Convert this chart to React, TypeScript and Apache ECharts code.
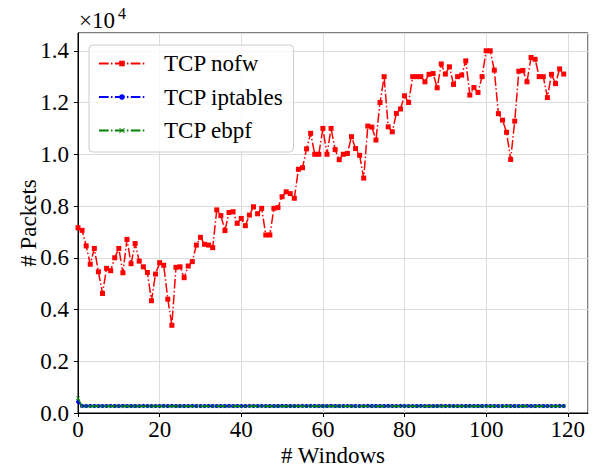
import React, { useEffect, useRef } from "react";
import * as echarts from "echarts";

const seriesNames = ["TCP nofw", "TCP iptables", "TCP ebpf"];

const nofw = [
  7160, 7060, 6460, 5750, 6360, 5460, 4620, 5590, 5500, 6000,
  6360, 5420, 6710, 5770, 6550, 5870, 5650, 5430, 4340, 5370,
  5810, 5710, 4400, 3390, 5630, 5650, 5230, 5680, 5850, 6490,
  6790, 6520, 6490, 6390, 7850, 7630, 7050, 7750, 7780, 7330,
  7520, 7240, 7650, 7970, 7700, 7910, 6880, 6880, 7910, 7940,
  8360, 8550, 8480, 8300, 9420, 9480, 10210, 10810, 10000, 10000,
  11000, 10000, 11000, 10180, 9790, 10000, 10030, 10680, 10220, 9960,
  9080, 11090, 11050, 10550, 12000, 13000, 11060, 10870, 11580, 11750,
  12260, 12000, 13000, 13000, 13000, 12800, 13090, 13120, 12570, 13490,
  13100, 13380, 12700, 13000, 13060, 13610, 12290, 12580, 12390, 13000,
  14000, 14000, 13250, 11570, 11320, 10850, 9800, 11280, 13210, 13240,
  12800, 13740, 13670, 13000, 13000, 12190, 13090, 12730, 13300, 13100,
];

const iptables = [
  430, 275, 272, 276, 273, 270, 274, 272, 275, 271,
  273, 276, 272, 274, 270, 273, 275, 272, 274, 271,
  273, 275, 272, 276, 271, 274, 272, 273, 275, 270,
  274, 272, 276, 273, 271, 274, 272, 275, 273, 270,
  274, 272, 275, 271, 273, 276, 272, 274, 270, 273,
  275, 272, 274, 271, 273, 275, 272, 276, 271, 274,
  272, 273, 275, 270, 274, 272, 276, 273, 271, 274,
  272, 275, 273, 270, 274, 272, 275, 271, 273, 276,
  272, 274, 270, 273, 275, 272, 274, 271, 273, 275,
  272, 276, 271, 274, 272, 273, 275, 270, 274, 272,
  276, 273, 271, 274, 272, 275, 273, 270, 274, 272,
  275, 271, 273, 276, 272, 274, 270, 273, 275, 272,
];

const ebpf = [
  570, 262, 258, 260, 257, 261, 259, 258, 262, 260,
  257, 259, 261, 258, 260, 262, 257, 259, 261, 258,
  260, 259, 262, 257, 261, 258, 260, 259, 262, 258,
  257, 261, 259, 260, 258, 262, 257, 260, 259, 261,
  258, 260, 262, 257, 259, 261, 258, 260, 259, 262,
  257, 261, 258, 260, 259, 262, 258, 257, 261, 259,
  260, 258, 262, 257, 260, 259, 261, 258, 260, 262,
  257, 259, 261, 258, 260, 259, 262, 257, 261, 258,
  260, 259, 262, 258, 257, 261, 259, 260, 258, 262,
  257, 260, 259, 261, 258, 260, 262, 257, 259, 261,
  258, 260, 259, 262, 257, 261, 258, 260, 259, 262,
  258, 257, 261, 259, 260, 258, 262, 257, 260, 259,
];

const xTickInterval = 20;
const yTickInterval = 2000;
const xMax = 124.95;
const yMax = 14687;

const FONT = "Liberation Serif";
const DASH = [9.6, 2.4, 1.5, 2.4];
const CROSS =
  "path://M1,0 L5,4 L9,0 L10,1 L6,5 L10,9 L9,10 L5,6 L1,10 L0,9 L4,5 L0,1 Z";

function toPairs(values: number[]) {
  return values.map((v, i) => [i, v]);
}

export default function App() {
  const ref = useRef<HTMLDivElement>(null);

  useEffect(() => {
    if (!ref.current) return;
    const chart = echarts.init(ref.current, undefined, { renderer: "svg" });
    const option: any = {
      animation: false,
      backgroundColor: "#ffffff",
      textStyle: { fontFamily: FONT },
      grid: {
        left: 78,
        right: 5,
        top: 33,
        bottom: 54,
        show: true,
        borderColor: "#000000",
        borderWidth: 1,
        containLabel: false,
        outerBoundsMode: "none",
      },
      legend: {
        orient: "vertical",
        left: 89,
        top: 45,
        padding: [7, 10, 10, 9],
        itemWidth: 46,
        itemHeight: 7,
        itemGap: 10.5,
        backgroundColor: "rgba(255,255,255,0.8)",
        borderColor: "#cccccc",
        borderWidth: 1,
        borderRadius: 4,
        data: seriesNames,
        textStyle: {
          fontFamily: FONT,
          fontSize: 23,
          color: "#000000",
          lineHeight: 22,
          padding: [0, 0, 0, 14],
        },
      },
      graphic: [
        {
          type: "text",
          left: 79,
          top: 9,
          style: {
            text: "×10",
            fontFamily: FONT,
            fontSize: 23,
            fill: "#000000",
          },
        },
        {
          type: "text",
          left: 118,
          top: 5,
          style: {
            text: "4",
            fontFamily: FONT,
            fontSize: 16,
            fill: "#000000",
          },
        },
      ],
      xAxis: {
        type: "value",
        min: 0,
        max: xMax,
        interval: xTickInterval,
        name: "# Windows",
        nameLocation: "middle",
        nameGap: 31,
        nameMoveOverlap: false,
        nameTextStyle: {
          fontFamily: FONT,
          fontSize: 23,
          color: "#000000",
        },
        axisLine: { show: true, onZero: false, lineStyle: { color: "#000000", width: 1 } },
        axisTick: { show: true, inside: false, length: 4, lineStyle: { color: "#000000" } },
        axisLabel: {
          fontFamily: FONT,
          fontSize: 23,
          color: "#000000",
          margin: 5,
          showMaxLabel: false,
        },
        splitLine: { show: true, lineStyle: { color: "#dcdcdc", width: 1 } },
      },
      yAxis: {
        type: "value",
        min: 0,
        max: yMax,
        interval: yTickInterval,
        name: "# Packets",
        nameLocation: "middle",
        nameGap: 38,
        nameMoveOverlap: false,
        nameRotate: 90,
        nameTextStyle: { fontFamily: FONT, fontSize: 23, color: "#000000" },
        axisLine: { show: true, lineStyle: { color: "#000000", width: 1 } },
        axisTick: { show: true, inside: false, length: 4, lineStyle: { color: "#000000" } },
        axisLabel: {
          fontFamily: FONT,
          fontSize: 23,
          color: "#000000",
          margin: 9,
          showMaxLabel: false,
          formatter: (v: number) => (v / 10000).toFixed(1),
        },
        splitLine: { show: true, lineStyle: { color: "#dcdcdc", width: 1 } },
      },
      series: [
        {
          name: seriesNames[0],
          type: "line",
          data: toPairs(nofw),
          symbol: "rect",
          symbolSize: 5,
          showAllSymbol: true,
          color: "#ff0000",
          lineStyle: { color: "#ff0000", width: 1.5, type: DASH },
          itemStyle: { color: "#ff0000" },
          z: 2,
        },
        {
          name: seriesNames[1],
          type: "line",
          data: toPairs(iptables),
          symbol: "circle",
          symbolSize: 4,
          showAllSymbol: true,
          color: "#0000ff",
          lineStyle: { color: "#0000ff", width: 1.5, type: DASH },
          itemStyle: { color: "#0000ff" },
          z: 3,
        },
        {
          name: seriesNames[2],
          type: "line",
          data: toPairs(ebpf),
          symbol: CROSS,
          symbolSize: 4,
          showAllSymbol: true,
          color: "#008000",
          lineStyle: { color: "#008000", width: 1.5, type: DASH },
          itemStyle: { color: "#008000" },
          z: 4,
        },
      ],
    };
    chart.setOption(option);
    return () => chart.dispose();
  }, []);

  return (
    <div
      ref={ref}
      style={{ position: "fixed", left: 0, top: 0, width: 593, height: 467 }}
    />
  );
}
